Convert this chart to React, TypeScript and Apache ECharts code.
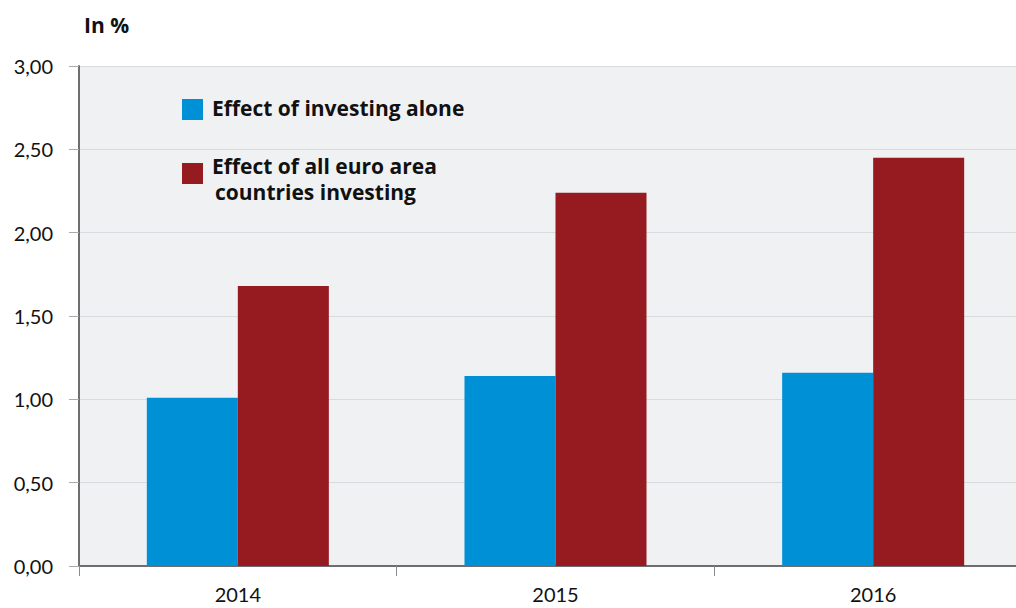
import React, { useEffect, useRef } from "react";
import * as echarts from "echarts";

const categories = ["2014", "2015", "2016"];
const investingAlone = [1.01, 1.14, 1.16];
const allEuroArea = [1.68, 2.24, 2.45];
const seriesNames = ["Effect of investing alone", "Effect of all euro area\ncountries investing"];
const yUnit = "In %";

const FONT = "Lato, 'Open Sans', sans-serif";
const BOLD_FONT = "'Open Sans', Lato, sans-serif";
const BLUE = "#0090d6";
const RED = "#951b20";

export default function App() {
  const ref = useRef<HTMLDivElement>(null);
  useEffect(() => {
    const chart = echarts.init(ref.current!, null, { renderer: "svg" });
    chart.setOption({
      animation: false,
      textStyle: { fontFamily: FONT },
      grid: { left: 79, top: 66, bottom: 42, right: 0, show: true, backgroundColor: "#f0f1f3", borderWidth: 0 },
      xAxis: {
        type: "category",
        data: categories,
        axisLine: { lineStyle: { color: "#6e6e6e", width: 2 } },
        axisTick: { show: true, length: 10, lineStyle: { color: "#8a8a8a", width: 1 } },
        axisLabel: { color: "#111", fontSize: 20, fontFamily: FONT, margin: 18 },
      },
      yAxis: {
        type: "value",
        min: 0,
        max: 3,
        interval: 0.5,
        axisLine: { show: true, lineStyle: { color: "#6e6e6e", width: 2 } },
        axisTick: { show: true, length: 10, lineStyle: { color: "#aaa", width: 1 } },
        splitLine: { lineStyle: { color: "#d9dadd", width: 1 } },
        axisLabel: {
          color: "#111",
          fontSize: 20,
          fontFamily: FONT,
          margin: 26,
          formatter: (v: number) => v.toFixed(2).replace(".", ","),
        },
      },
      series: [
        {
          type: "bar",
          name: seriesNames[0],
          data: investingAlone,
          itemStyle: { color: BLUE },
          barGap: "0%",
          barCategoryGap: "42.7%",
        },
        {
          type: "bar",
          name: seriesNames[1],
          data: allEuroArea,
          itemStyle: { color: RED },
          barGap: "0%",
          barCategoryGap: "42.7%",
        },
      ],
      graphic: [
        { type: "text", left: 84, top: 14, style: { text: yUnit, font: `bold 21px ${BOLD_FONT}`, fill: "#111" } },
        { type: "rect", shape: { x: 182, y: 99, width: 21, height: 21 }, style: { fill: BLUE } },
        { type: "text", x: 212, y: 97, style: { text: seriesNames[0], font: `bold 21px ${BOLD_FONT}`, fill: "#111" } },
        { type: "rect", shape: { x: 182, y: 163, width: 21, height: 21 }, style: { fill: RED } },
        { type: "text", x: 212, y: 155, style: { text: "Effect of all euro area", font: `bold 21px ${BOLD_FONT}`, fill: "#111" } },
        { type: "text", x: 215, y: 181, style: { text: "countries investing", font: `bold 21px ${BOLD_FONT}`, fill: "#111" } },
      ],
    });
    return () => chart.dispose();
  }, []);
  return (
    <div style={{ position: "absolute", left: 0, top: 0, width: 1016, height: 608, overflow: "hidden" }}>
      <div ref={ref} style={{ position: "absolute", left: 0, top: 0, width: 1032, height: 608 }} />
    </div>
  );
}
